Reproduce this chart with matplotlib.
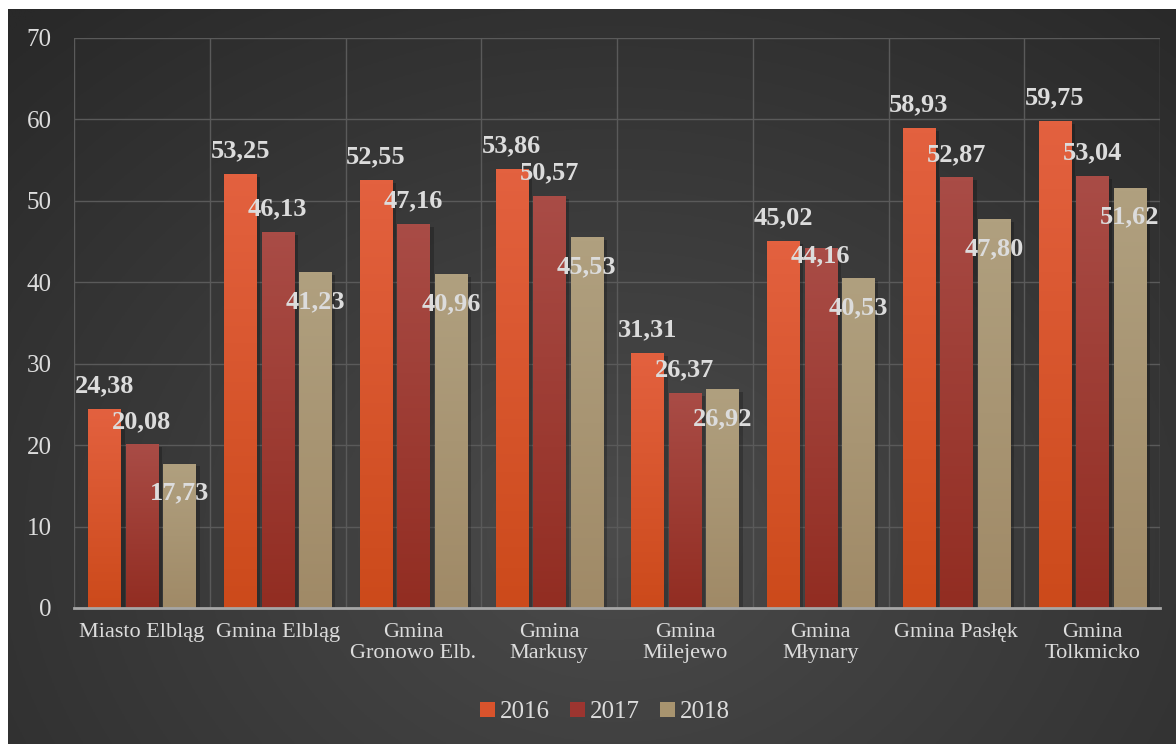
import matplotlib
matplotlib.use("Agg")
import matplotlib.pyplot as plt
import matplotlib.patheffects as pe
import numpy as np
from matplotlib.colors import LinearSegmentedColormap
from matplotlib.patches import Patch

# dane z wykresu
gminy = ["Miasto Elbląg", "Gmina Elbląg", "Gmina\nGronowo Elb.", "Gmina\nMarkusy",
         "Gmina\nMilejewo", "Gmina\nMłynary", "Gmina Pasłęk", "Gmina\nTolkmicko"]
lata = ["2016", "2017", "2018"]
v2016 = [24.38, 53.25, 52.55, 53.86, 31.31, 45.02, 58.93, 59.75]
v2017 = [20.08, 46.13, 47.16, 50.57, 26.37, 44.16, 52.87, 53.04]
v2018 = [17.73, 41.23, 40.96, 45.53, 26.92, 40.53, 47.80, 51.62]
serie = [v2016, v2017, v2018]

# kolory: (góra, dół) gradientu słupka
kolory = [("#e3613f", "#cc4a1b"), ("#a94c46", "#922d22"), ("#b0a07f", "#a08a67")]
kolor_legendy = ["#d9532c", "#9c3530", "#a8946f"]
txt = "#dcdcdc"

plt.rcParams["font.family"] = ["Liberation Serif", "DejaVu Serif"]

fig = plt.figure(figsize=(11.76, 7.44), dpi=100, facecolor="white")

# tło z gradientem radialnym
bg = fig.add_axes([8 / 1176, 0, 1168 / 1176, 735 / 744], zorder=-5)
yy, xx = np.mgrid[0:1:300j, 0:1:400j]
d = np.sqrt(((xx - 0.52) / 0.75) ** 2 + ((yy - 0.72) / 0.95) ** 2)
d = np.clip(d, 0, 1)
jasny, ciemny = 0x4b / 255, 0x29 / 255
val = jasny - (jasny - ciemny) * d
bg.imshow(np.dstack([val, val, val]), aspect="auto", extent=[0, 1, 0, 1], origin="upper")
bg.axis("off")

ax = fig.add_axes([74 / 1176, 1 - 608 / 744, 1086 / 1176, 570 / 744])
ax.set_facecolor("none")

x = np.arange(len(gminy))
szer = 0.236
krok = 0.276
cien = [pe.SimplePatchShadow(offset=(3, -2), shadow_rgbFace="black", alpha=0.22), pe.Normal()]

for j, vals in enumerate(serie):
    pos = x + (j - 1) * krok
    bars = ax.bar(pos, vals, width=szer, color=kolory[j][1], edgecolor="#00000030",
                  linewidth=0.8, zorder=3, path_effects=cien)
    cmap = LinearSegmentedColormap.from_list("g%d" % j, [kolory[j][1], kolory[j][0]])
    for b in bars:
        bx, bw, bh = b.get_x(), b.get_width(), b.get_height()
        im = ax.imshow(np.linspace(0, 1, 100).reshape(-1, 1), cmap=cmap, aspect="auto",
                       extent=[bx, bx + bw, 0, bh], origin="lower", zorder=3.5)
        im.set_clip_path(b)
    for i, (p, v) in enumerate(zip(pos, vals)):
        etyk = f"{v:.2f}".replace(".", ",")
        if j == 0 or (j == 1 and v2016[i] - v > 2):
            ax.annotate(etyk, (p, v), xytext=(0, 12), textcoords="offset points",
                        ha="center", va="baseline", fontsize=19, fontweight="bold",
                        color=txt, zorder=6)
        elif j == 1:
            # etykieta przesunięta w dół, żeby nie nachodziła na sąsiednią
            ax.annotate(etyk, (p, v), xytext=(0, -10), textcoords="offset points",
                        ha="center", va="baseline", fontsize=19, fontweight="bold",
                        color=txt, zorder=6)
        else:
            ax.annotate(etyk, (p, v), xytext=(0, -13), textcoords="offset points",
                        ha="center", va="top", fontsize=19, fontweight="bold",
                        color=txt, zorder=6)

ax.set_xlim(-0.5, len(gminy) - 0.5)
ax.set_ylim(0, 70)
ax.set_yticks(range(0, 71, 10))
ax.set_xticks(x)
ax.set_xticklabels(gminy, linespacing=1.1)
ax.set_xticks(np.arange(-0.5, len(gminy), 1), minor=True)
ax.tick_params(axis="y", length=0, pad=16, labelsize=18, colors=txt)
ax.tick_params(axis="x", which="both", length=0, pad=11, labelsize=16, colors=txt)
ax.grid(axis="y", color="#5a5a5a", linewidth=1, zorder=0)
ax.grid(axis="x", which="minor", color="#5a5a5a", linewidth=1, zorder=0)
ax.set_axisbelow(True)
for s in ["top", "right", "left"]:
    ax.spines[s].set_visible(False)
ax.spines["bottom"].set_color("#a6a6a6")
ax.spines["bottom"].set_linewidth(2)
ax.spines["bottom"].set_zorder(4)

uchwyty = [Patch(facecolor=c, edgecolor="none") for c in kolor_legendy]
fig.legend(uchwyty, lata, loc="center", bbox_to_anchor=(605 / 1176, 1 - 712 / 744), ncol=3,
           frameon=False, fontsize=18, labelcolor=txt, handlelength=0.6, handleheight=0.55,
           handletextpad=0.2, columnspacing=0.8)

plt.savefig("out.png", dpi=100, facecolor="white")
